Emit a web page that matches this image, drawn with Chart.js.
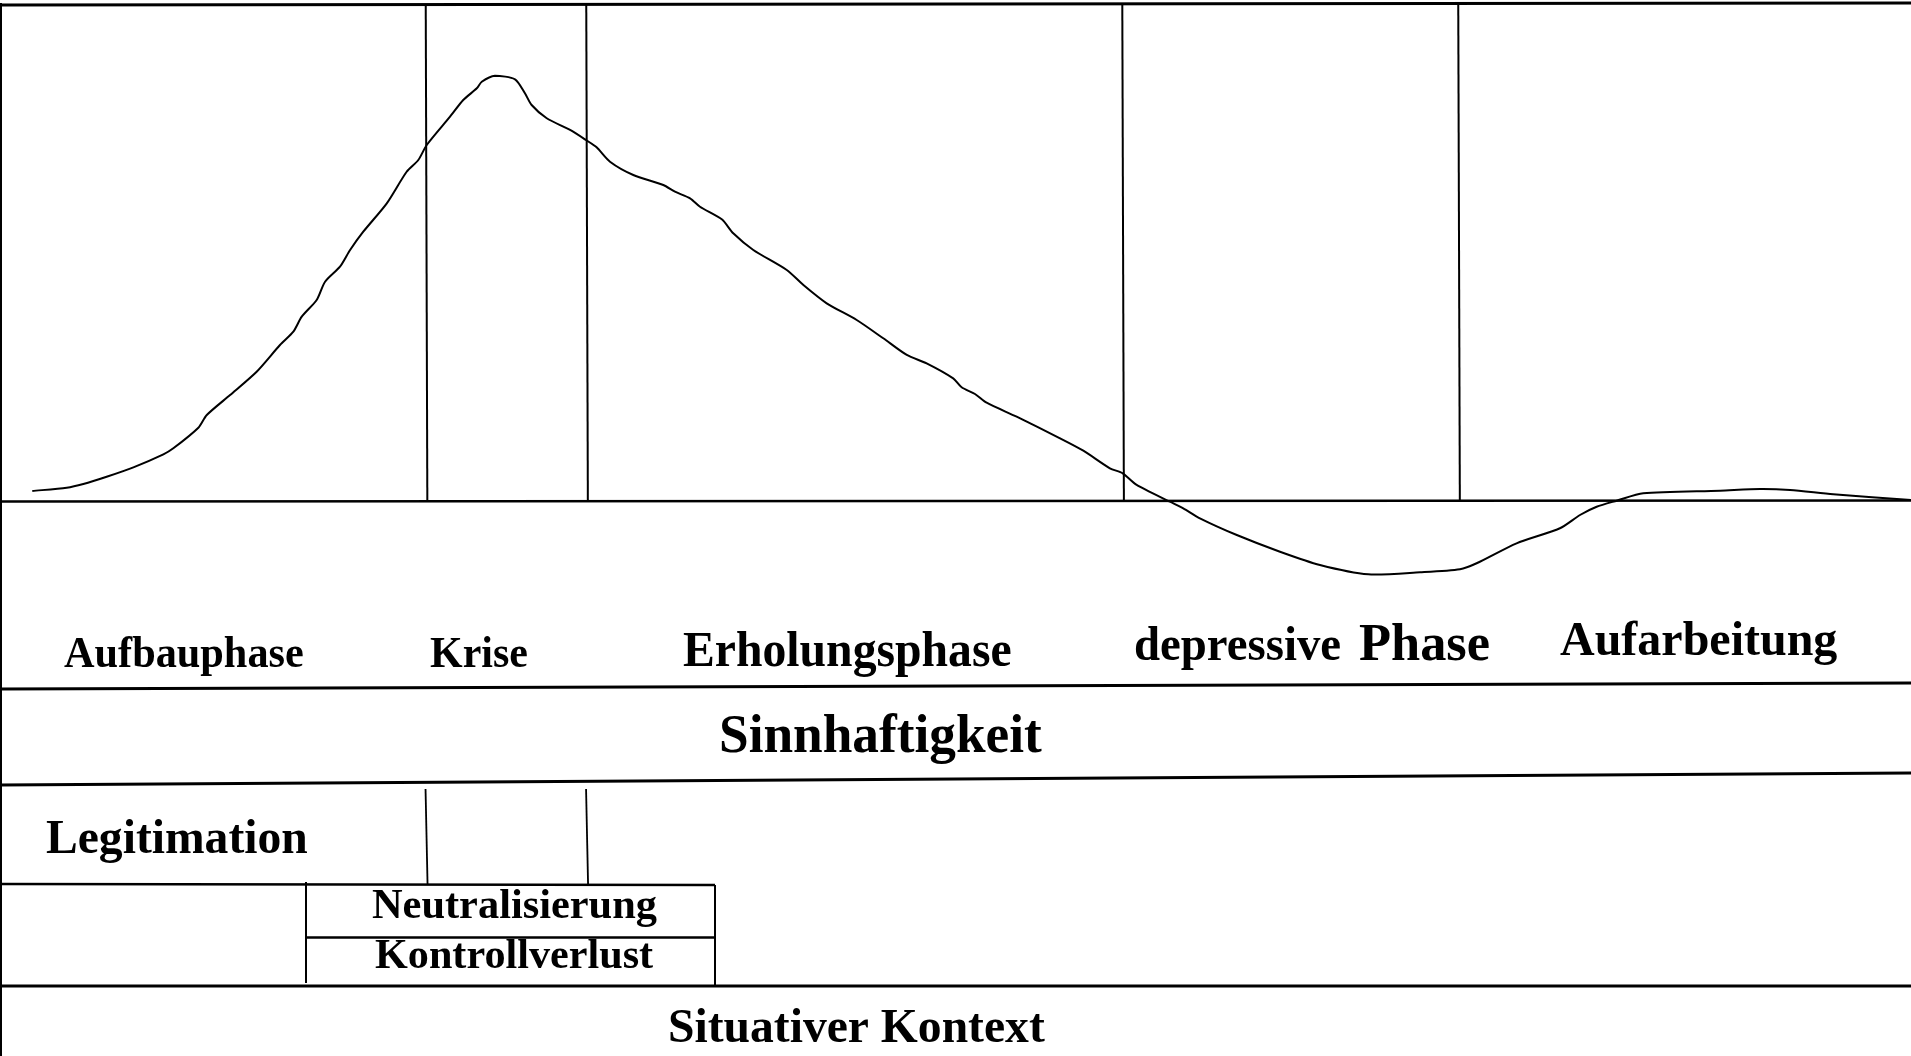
<!DOCTYPE html>
<html>
<head>
<meta charset="utf-8">
<script src="https://cdn.jsdelivr.net/npm/chart.js@4/dist/chart.umd.min.js"></script>
<style>
html,body{margin:0;padding:0;background:#fff;}
#wrap{width:1911px;height:1056px;position:relative;}
</style>
</head>
<body>
<div id="wrap"><canvas id="c" width="1911" height="1056"></canvas></div>
<script>
// Verlauf (x: Zeit 0..100, y: Intensität, Gipfel = 100)
const curveX = [1.69,3.49,4.36,5.58,6.98,8.55,9.07,10.38,10.82,12.04,13.43,14.65,15.35,15.79,16.57,17.01,17.79,18.32,19.01,20.24,21.28,21.89,22.33,23.55,24.24,24.95,25.21,25.90,26.95,27.47,27.82,28.61,29.83,30.66,31.22,31.92,33.14,34.71,35.32,36.11,36.63,37.77,38.37,39.42,41.17,42.04,43.26,44.83,46.22,47.45,48.49,49.88,50.32,51.02,51.63,53.20,55.47,56.69,58.08,58.75,59.48,61.22,61.92,62.79,64.72,66.98,69.07,71.60,74.31,76.40,77.27,79.36,81.63,82.68,83.55,84.60,85.99,90.01,92.10,93.67,95.93,100.0];
const curveY = [2.47,3.24,4.11,5.82,8.03,11.08,12.49,17.33,20.31,25.01,30.48,36.75,39.88,43.40,47.32,51.62,55.14,59.07,63.36,70.03,77.45,80.20,83.72,90.37,94.29,97.04,98.59,100.0,99.15,95.87,93.12,90.0,87.25,84.90,83.18,79.80,76.68,74.33,72.76,71.21,69.23,66.27,62.99,59.07,54.37,50.85,46.55,42.63,38.33,34.41,32.46,28.93,26.82,25.25,23.20,19.92,14.84,11.93,7.80,6.62,3.88,-0.05,-1.60,-3.95,-7.87,-11.79,-14.91,-17.10,-16.63,-15.92,-14.51,-9.82,-6.29,-3.17,-1.22,0.19,1.93,2.54,2.94,2.70,1.69,0.35];
// Phasengrenzen (x-Werte)
const phaseBounds = [22.32, 30.72, 58.77, 76.35];
// Beschriftungen
const phaseLabels = ["Aufbauphase","Krise","Erholungsphase","depressive","Phase","Aufarbeitung"];
const rowLabels = ["Sinnhaftigkeit","Legitimation","Neutralisierung","Kontrollverlust","Situativer Kontext"];

const pts = curveX.map((x,i)=>({x:x,y:curveY[i]}));
const FONT = '"Liberation Serif","Times New Roman",serif';

function line(ctx,x1,y1,x2,y2,w){
  ctx.beginPath(); ctx.lineWidth=w; ctx.moveTo(x1,y1); ctx.lineTo(x2,y2); ctx.stroke();
}
function txt(ctx,s,x,y,size,sy){
  ctx.save();
  ctx.translate(x,y); ctx.scale(1,sy||1.03);
  ctx.font='bold '+size+'px '+FONT; ctx.fillText(s,0,0);
  ctx.restore();
}

const deco = {
  id:'deco',
  beforeDraw(chart){
    const ctx=chart.ctx;
    ctx.save(); ctx.fillStyle='#fff'; ctx.fillRect(0,0,chart.width,chart.height); ctx.restore();
  },
  beforeDatasetsDraw(chart){
    const ctx=chart.ctx, xs=chart.scales.x, ys=chart.scales.y;
    const W=chart.width;
    const y0=ys.getPixelForValue(0);
    ctx.save();
    ctx.strokeStyle='#000'; ctx.lineCap='butt';
    // Rahmen
    line(ctx,0,5,W,3,3);
    line(ctx,1,3,1,1056,2);
    // Nulllinie
    line(ctx,2,y0,W,y0-1,2.5);
    // Phasengrenzen
    phaseBounds.forEach((b,i)=>{
      const px=xs.getPixelForValue(b);
      line(ctx,px-0.8,5,px+0.8,y0,2);
    });
    // Tabellenlinien
    line(ctx,0,689,W,683,3);
    line(ctx,0,785,W,773,3);
    line(ctx,0,884,715,885,2.5);
    line(ctx,306,882,306,983,2);
    line(ctx,715,885,715,986,2);
    line(ctx,306,937.5,715,937.5,2.5);
    line(ctx,2,986,W,986,3);
    // kurze Linien in der Legitimationszeile
    [phaseBounds[0],phaseBounds[1]].forEach(b=>{
      const px=xs.getPixelForValue(b);
      line(ctx,px-1,789,px+1,884,1.8);
    });
    // Texte
    ctx.fillStyle='#000'; ctx.textAlign='left'; ctx.textBaseline='alphabetic';
    txt(ctx,phaseLabels[0],64,667,42.3,1.035);
    txt(ctx,phaseLabels[1],430,667,42,1.035);
    txt(ctx,phaseLabels[2],683,666,47.7,1.045);
    txt(ctx,phaseLabels[3],1134,660,46.8,1.03);
    txt(ctx,phaseLabels[4],1359,660,52.4,1.02);
    txt(ctx,phaseLabels[5],1560,655,48,1.01);
    txt(ctx,rowLabels[0],719,752,53.3,1.045);
    txt(ctx,rowLabels[1],46,853,47.6,1.0);
    txt(ctx,rowLabels[2],372,918,42.4,0.98);
    txt(ctx,rowLabels[3],375,968,42.2,0.98);
    txt(ctx,rowLabels[4],668,1042,47.6,1.015);
    ctx.restore();
  }
};

new Chart(document.getElementById('c'),{
  type:'line',
  data:{datasets:[{
    data:pts,
    borderColor:'#000',
    borderWidth:2,
    pointRadius:0,
    tension:0.25,
    fill:false,
    clip:false
  }]},
  options:{
    responsive:false,
    animation:false,
    devicePixelRatio:1,
    layout:{padding:{left:0,right:0,top:75.7,bottom:469.34}},
    plugins:{legend:{display:false},tooltip:{enabled:false},title:{display:false}},
    scales:{
      x:{type:'linear',min:0,max:100,display:false},
      y:{type:'linear',min:-20,max:100,display:false}
    }
  },
  plugins:[deco]
});
</script>
</body>
</html>
